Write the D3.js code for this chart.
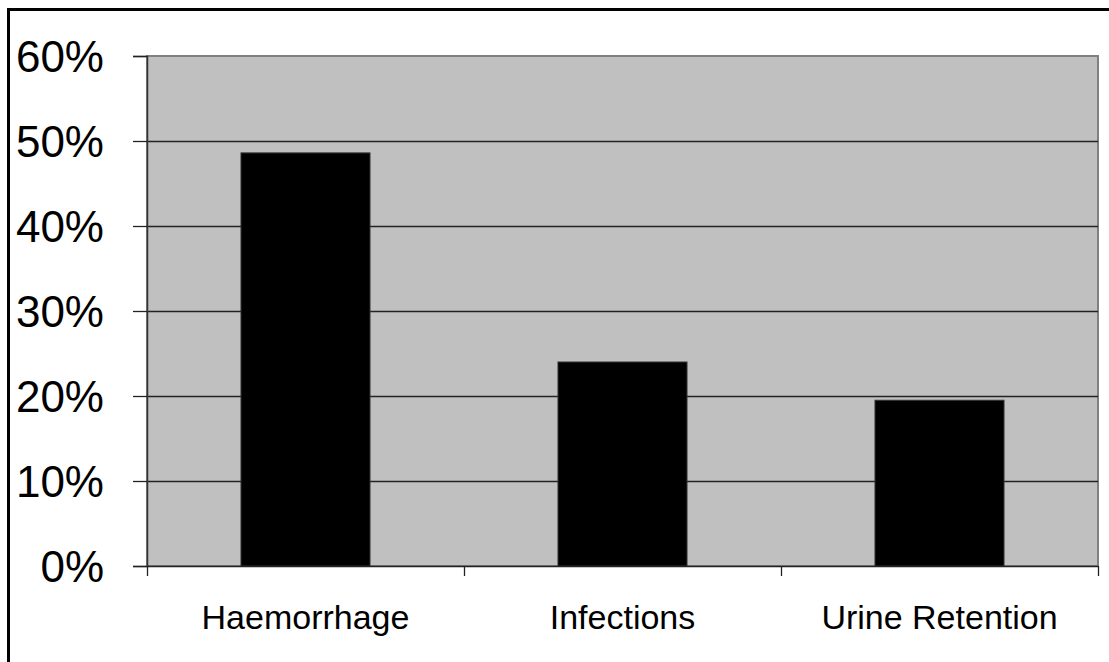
<!DOCTYPE html>
<html>
<head>
<meta charset="utf-8">
<script src="https://cdn.jsdelivr.net/npm/d3@7"></script>
<style>
  body { margin: 0; background: #fff; }
  svg text { font-family: "Liberation Sans", Arial, sans-serif; fill: #000; }
</style>
</head>
<body>
<svg id="myGraph" width="1109" height="662"></svg>
<script>
// data
var categories = ['Haemorrhage', 'Infections', 'Urine Retention'];
var values = [0.486, 0.24, 0.195];
var yTicks = [0, 0.1, 0.2, 0.3, 0.4, 0.5, 0.6];

var svg = d3.select('#myGraph');

// plot area
var plotLeft = 147, plotRight = 1098, plotTop = 56, plotBottom = 566;

// outer frame (right and bottom edges fall outside the picture)
svg.append('rect')
  .attr('x', 8.5).attr('y', 9.5)
  .attr('width', 1200).attr('height', 800)
  .attr('fill', 'none')
  .attr('stroke', '#000')
  .attr('stroke-width', 3);

var x = d3.scaleBand()
  .domain(categories)
  .range([plotLeft, plotRight])
  .paddingInner(0.593)
  .paddingOuter(0.593 / 2);

var y = d3.scaleLinear()
  .domain([0, 0.6])
  .range([plotBottom, plotTop]);

// gray background
svg.append('rect')
  .attr('x', plotLeft).attr('y', plotTop)
  .attr('width', plotRight - plotLeft).attr('height', plotBottom - plotTop)
  .attr('fill', '#c0c0c0')
  .attr('stroke', '#808080')
  .attr('stroke-width', 2);

// gridlines
svg.append('g')
  .selectAll('line')
  .data(yTicks.filter(function(d) { return d > 0 && d < 0.6; }))
  .enter()
  .append('line')
  .attr('x1', plotLeft).attr('x2', plotRight)
  .attr('y1', function(d) { return Math.round(y(d)) + 0.5; })
  .attr('y2', function(d) { return Math.round(y(d)) + 0.5; })
  .attr('stroke', '#222')
  .attr('stroke-width', 1.3);

// bars
svg.append('g')
  .selectAll('rect')
  .data(values)
  .enter()
  .append('rect')
  .attr('x', function(d, i) { return x(categories[i]); })
  .attr('y', function(d) { return y(d); })
  .attr('width', x.bandwidth())
  .attr('height', function(d) { return y(0) - y(d); })
  .attr('fill', '#000')
  .attr('stroke', '#333')
  .attr('stroke-width', 1);

// y axis
var yAxis = svg.append('g')
  .attr('transform', 'translate(' + plotLeft + ',0)')
  .call(d3.axisLeft(y)
    .tickValues(yTicks)
    .tickSize(14)
    .tickFormat(d3.format('.0%')));
yAxis.select('.domain').attr('stroke', '#333').attr('stroke-width', 1.5);
yAxis.selectAll('.tick line').attr('stroke', '#222').attr('stroke-width', 1.3);
yAxis.selectAll('.tick text')
  .attr('font-size', 44)
  .attr('dy', '0.36em')
  .attr('x', -43)
  .style('font-family', '"Liberation Sans", Arial, sans-serif');

// x axis: ticks at category boundaries
var xEdge = d3.scaleLinear().domain([0, categories.length]).range([plotLeft, plotRight]);
var xAxis = svg.append('g')
  .attr('transform', 'translate(0,' + plotBottom + ')')
  .call(d3.axisBottom(xEdge)
    .ticks(categories.length)
    .tickSize(10)
    .tickSizeOuter(0)
    .tickFormat(''));
xAxis.select('.domain').attr('stroke', '#222').attr('stroke-width', 1.5);
xAxis.selectAll('.tick line').attr('stroke', '#222').attr('stroke-width', 1.3);

// category labels
svg.append('g')
  .selectAll('text')
  .data(categories)
  .enter()
  .append('text')
  .attr('x', function(d) { return x(d) + x.bandwidth() / 2; })
  .attr('y', 629)
  .attr('text-anchor', 'middle')
  .attr('font-size', 34)
  .text(function(d) { return d; });
</script>
</body>
</html>
